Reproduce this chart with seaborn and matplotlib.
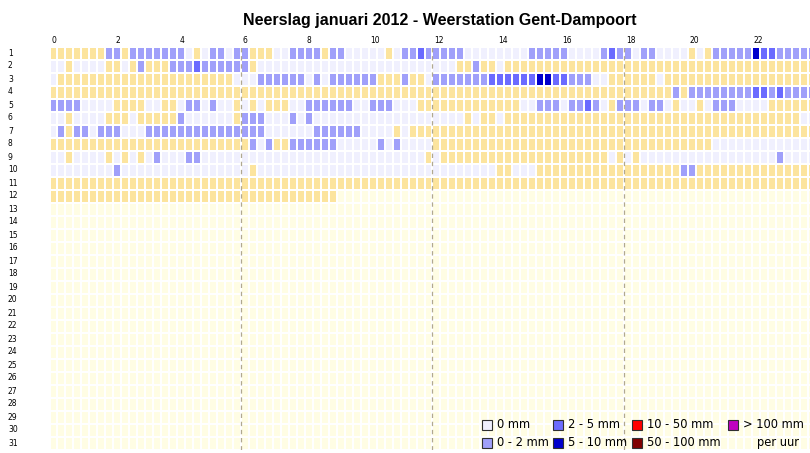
import numpy as np
import pandas as pd
import matplotlib
matplotlib.use("Agg")
import matplotlib.pyplot as plt
import matplotlib.transforms as mtransforms
from matplotlib.colors import ListedColormap
from matplotlib.patches import Rectangle
import seaborn as sns

title = "Neerslag januari 2012 - Weerstation Gent-Dampoort"
days = list(range(1, 32))
hour_ticks = list(range(0, 24, 2))
dashed_hours = [6, 12, 18]
slots_per_hour = 4
n_slots = 24 * slots_per_hour

# class codes: . = geen data, Y = droog, L = 0 mm, B = 0-2, M = 2-5, D = 5-10, R = 10-50, K = 50-100, P = >100
codes = ".YLBMDRKP"
class_colors = ["#FFFDE4", "#FCE49E", "#F0F0FE", "#A0A0FA", "#6B6BFF",
                "#0000CC", "#FF0000", "#800000", "#C000C0"]
legend_labels = ["0 mm", "0 - 2 mm", "2 - 5 mm", "5 - 10 mm",
                 "10 - 50 mm", "50 - 100 mm", "> 100 mm"]
legend_codes = "LBMDRKP"
unit_label = "per uur"

# one string per day, one character per 15 minutes
day01 = "YYYYYYYBBYBBBBBB" "BLYLBBLBBYYYLLBB" "BBYBBLLLLLYLBBMB" "BBBBLLLLLLLLBBBB" "BLLLLBMBBLBBLLLL" "YLYBBBBBDMMBBBBB"
day02 = "LLYLLLLYYLYBYYYB" "BBMBBBBBBYLLLLLL" "LLLLLLLLLLLLLLLL" "LLLYYBYYLYYYYYYY" "YYYYYYYYYYYYYYYY" "YYYYYYYYYYYYYYYY"
day03 = "LYYYYYYYYYYYYYYY" "YYYYYYYLLLBBBBBB" "LBLBBBBBBYYYBYYL" "BBBBBBBMMMMMMDDM" "MBBBLLYYYYYYLYYY" "YYYYYYYYYYYYYYYY"
day04 = "YYYYYYYYYYYYYYYY" "YYYYYYYYYYYYYYYY" "YYYYYYYYYYYYYYYY" "YYYYYYYYYYYYYYYY" "YYYYYYYYYYYYYYBY" "BBBBBBBBMMBMBBBB"
day05 = "BBBBLLLLYYYYLLYY" "LBBLBLLYLYLYYYLL" "BBBBBBLLBBBLLLYY" "YYYYYYYYYYYLLBBB" "LBBMBLYBBBLBBLYL" "LYLBBBLLLLYYYYYY"
day06 = "LLYLLLLYYYLYYYYY" "BLLLLLLYBBBLLLBL" "BLLLLLLLLLLLLLLL" "LLLLYLYYLYYYYYYY" "YYYYYYYYYYYYYYYY" "YYYYYYYYYYYYYYLL"
day07 = "LBYBBLBBBLLLBBBB" "BBBBBBBBBBBLLLLL" "LBBBBBBLLLLYLYYY" "YYYYYYYYYYYYYYYY" "YYYYYYYYYYYYYYYY" "YYYYYYYYYYYYYYYY"
day08 = "YYYYYYYYYYYYYYYY" "YYYYYYYYYBLBYYBB" "BBBBLLLLLBLBLLLL" "YYYYYYYYYYYYYYYY" "YYYYYYYYYYYYYYYY" "YYYLLLLLLLLLLLLL"
day09 = "LLYLLLLYLYLYLBLL" "LBBLLLLLLLLLLLLL" "LLLLLLLLLLLLLLLY" "LYYYYYYYYYYYYYYY" "YYYYYYLYLYLLLLLL" "LLLLLLLLLLLBLLLL"
day10 = "LLLLLLLLBLLLLLLL" "LLLLLLLLLYLLLLLL" "LLLLLLLLLLLLLLLL" "LLLLLLLLYYLLLYYY" "YYYYYYYYYYYYYYYB" "BYYYYYYYYYYYYYYY"
day11 = "Y" * 96
day12 = "Y" * 36
day_rows = [day01, day02, day03, day04, day05, day06, day07, day08,
            day09, day10, day11, day12]

matrix = np.zeros((len(days), n_slots), dtype=int)
for i, row in enumerate(day_rows):
    for j, ch in enumerate(row):
        matrix[i, j] = codes.index(ch)
df = pd.DataFrame(matrix, index=days,
                  columns=[f"{s // 4:02d}:{(s % 4) * 15:02d}" for s in range(n_slots)])

W, H = 810, 453
fig = plt.figure(figsize=(W / 100, H / 100), dpi=100)
fig.patch.set_facecolor("white")
ax = fig.add_axes([49.5 / W, 3.5 / H, 766 / W, 403 / H])
cmap = ListedColormap(class_colors)
sns.heatmap(df, cmap=cmap, vmin=-0.5, vmax=len(codes) - 0.5, cbar=False,
            linewidths=0, ax=ax, xticklabels=False, yticklabels=False)
ax.set_xlabel("")
ax.set_ylabel("")
for s in ax.spines.values():
    s.set_visible(False)

# white gaps between the cells
ax.vlines(np.arange(n_slots + 1), 0, len(days), colors="white", lw=1.3,
          antialiased=False, zorder=3)
ax.hlines(np.arange(len(days) + 1), 0, n_slots, colors="white", lw=1.3,
          antialiased=False, zorder=3)

for h in dashed_hours:
    ax.axvline(h * slots_per_hour, color="#B0A890", lw=0.9,
               ls=(0, (3.5, 3)), zorder=5)

for h in hour_ticks:
    ax.text(h * slots_per_hour + 0.25, -0.08, str(h), ha="left", va="bottom",
            fontsize=5.5, color="black")

tr = mtransforms.blended_transform_factory(fig.transFigure, ax.transData)
for i, d in enumerate(days):
    ax.text(8 / W, i + 0.5, str(d), transform=tr, ha="left", va="center",
            fontsize=5.5, color="black")

fig.text(440 / W, 1 - 20 / H, title, ha="center", va="center",
         fontsize=11.5, fontweight="bold", family="Liberation Sans")

# legend
col_text_x = [497, 568, 647, 743]
row_y = [424.5, 442.5]
for k, (lab, ch) in enumerate(zip(legend_labels, legend_codes)):
    c, r = k // 2, k % 2
    tx, ty = col_text_x[c], row_y[r]
    sq = 10
    fig.add_artist(Rectangle(((tx - 15) / W, 1 - (ty + sq / 2) / H), sq / W, sq / H,
                             transform=fig.transFigure,
                             facecolor=class_colors[codes.index(ch)],
                             edgecolor="#303030", lw=0.8))
    fig.text(tx / W, 1 - ty / H, lab, ha="left", va="center", fontsize=8.3,
             family="DejaVu Sans")
fig.text(757 / W, 1 - row_y[1] / H, unit_label, ha="left", va="center",
         fontsize=8.3, family="DejaVu Sans")

fig.savefig("out.png", dpi=100)
